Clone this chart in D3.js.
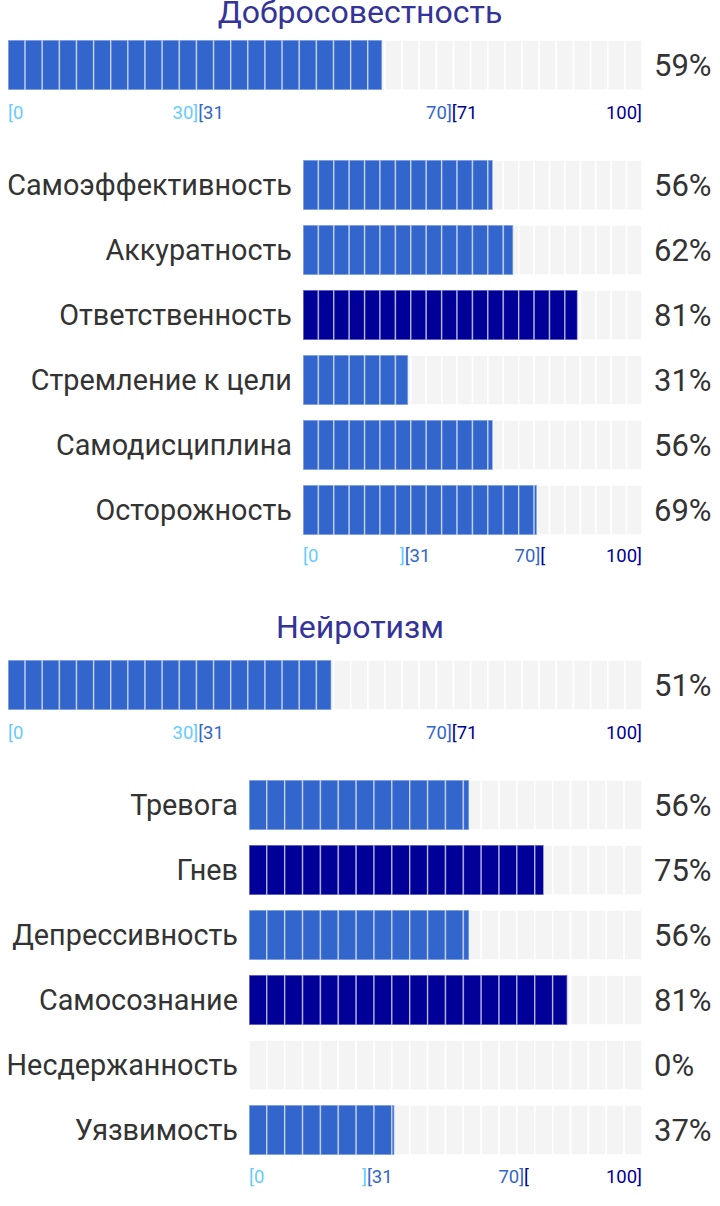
<!DOCTYPE html>
<html>
<head>
<meta charset="utf-8">
<script src="https://cdn.jsdelivr.net/npm/d3@7"></script>
<style>
  html, body { margin: 0; padding: 0; background: #fff; }
  svg { display: block; font-family: Roboto, "Noto Sans", sans-serif; }
</style>
</head>
<body>
<svg id="chart" width="720" height="1206"></svg>
<script>
// ---- data ----
const traitNames = ["Добросовестность", "Нейротизм"];
const traitValues = [59, 51];

const consFacets = ["Самоэффективность", "Аккуратность", "Ответственность", "Стремление к цели", "Самодисциплина", "Осторожность"];
const consValues = [56, 62, 81, 31, 56, 69];

const neuroFacets = ["Тревога", "Гнев", "Депрессивность", "Самосознание", "Несдержанность", "Уязвимость"];
const neuroValues = [56, 75, 56, 81, 0, 37];

const mainTickLabels = ["[0", "30]", "[31", "70]", "[71", "100]"];
const facetTickLabels = ["[0", "]", "[31", "70]", "[", "100]"];
const tickValues = [0, 30, 30, 70, 70, 100];
const tickBands = [0, 0, 1, 1, 2, 2];

const bandColors = ["#66ccff", "#3366cc", "#000099"];

// ---- helpers ----
const svg = d3.select("#chart");
const W = 720;
const colorFor = v => v <= 30 ? bandColors[0] : (v <= 70 ? bandColors[1] : bandColors[2]);

function drawBar(g, x, y0, h, value, nSeg) {
  const segs = d3.range(nSeg).map(i => [i * 100 / nSeg, (i + 1) * 100 / nSeg]);
  g.append("g").selectAll("rect").data(segs).join("rect")
    .attr("x", d => x(d[0]))
    .attr("y", y0)
    .attr("width", d => x(d[1]) - x(d[0]))
    .attr("height", h)
    .attr("fill", "#f4f4f4")
    .attr("stroke", "#ffffff")
    .attr("stroke-width", 1.5);
  const filled = segs.filter(d => d[0] < value);
  g.append("g").selectAll("rect").data(filled).join("rect")
    .attr("x", d => x(d[0]))
    .attr("y", y0)
    .attr("width", d => x(Math.min(d[1], value)) - x(d[0]))
    .attr("height", h)
    .attr("fill", colorFor(value))
    .attr("stroke", "rgba(255,255,255,0.5)")
    .attr("stroke-width", 1.5);
}

function drawTicks(g, x, baseline, labels) {
  g.append("g").selectAll("text").data(labels).join("text")
    .attr("x", (d, i) => x(tickValues[i]))
    .attr("y", baseline)
    .attr("text-anchor", (d, i) => d.startsWith("[") ? "start" : "end")
    .attr("fill", (d, i) => bandColors[tickBands[i]])
    .attr("font-size", 18.5)
    .text(d => d);
}

function drawSection(cfg) {
  const g = svg.append("g");
  // title
  g.append("text")
    .attr("x", W / 2).attr("y", cfg.titleY)
    .attr("text-anchor", "middle")
    .attr("fill", "#333399")
    .attr("font-size", 32)
    .text(cfg.title);

  // main bar
  const xMain = d3.scaleLinear().domain([0, 100]).range([8, 642]);
  drawBar(g, xMain, cfg.mainY, 50, cfg.value, 37);
  g.append("text")
    .attr("x", 654).attr("y", cfg.mainY + 25)
    .attr("dy", "0.36em")
    .attr("fill", "#333")
    .attr("font-size", 31)
    .text(cfg.value + "%");
  drawTicks(g, xMain, cfg.mainY + 79, mainTickLabels);

  // facets
  const xF = d3.scaleLinear().domain([0, 100]).range([cfg.facetX, 642]);
  const y = d3.scaleBand().domain(cfg.facets)
    .range([cfg.facetY, cfg.facetY + cfg.facets.length * 65 - 15])
    .paddingInner(15 / 65).paddingOuter(0);
  cfg.facets.forEach((name, i) => {
    const row = g.append("g");
    drawBar(row, xF, y(name), y.bandwidth(), cfg.values[i], 22);
    row.append("text")
      .attr("x", cfg.facetX - 11).attr("y", y(name) + y.bandwidth() / 2)
      .attr("dy", "0.36em")
      .attr("text-anchor", "end")
      .attr("fill", "#333")
      .attr("font-size", 28.8)
      .text(name);
    row.append("text")
      .attr("x", 654).attr("y", y(name) + y.bandwidth() / 2)
      .attr("dy", "0.36em")
      .attr("fill", "#333")
      .attr("font-size", 31)
      .text(cfg.values[i] + "%");
  });
  const lastBottom = cfg.facetY + cfg.facets.length * 65 - 15;
  drawTicks(g, xF, lastBottom + cfg.facetTickGap, facetTickLabels);
}

drawSection({
  title: traitNames[0], titleY: 23, value: traitValues[0], mainY: 40,
  facets: consFacets, values: consValues, facetX: 303, facetY: 160, facetTickGap: 27
});
drawSection({
  title: traitNames[1], titleY: 638, value: traitValues[1], mainY: 660,
  facets: neuroFacets, values: neuroValues, facetX: 249, facetY: 780, facetTickGap: 28
});
</script>
</body>
</html>
